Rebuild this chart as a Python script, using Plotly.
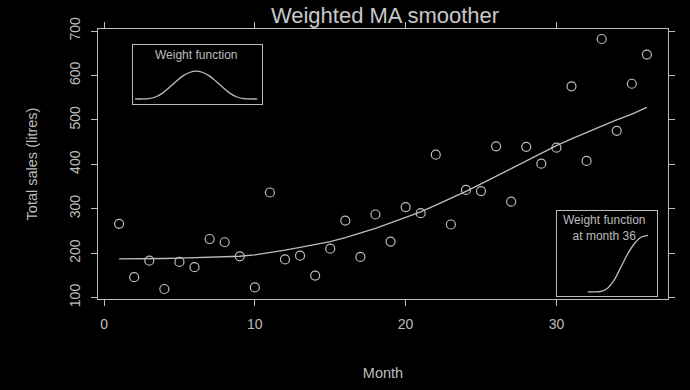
import plotly.graph_objects as go

# Data
months = list(range(1, 37))
sales = [266.0, 145.9, 183.1, 119.3, 180.3, 168.5, 231.8, 224.5, 192.8, 122.9,
         336.5, 185.9, 194.3, 149.5, 210.1, 273.3, 191.4, 287.0, 226.0, 303.6,
         289.9, 421.6, 264.5, 342.3, 339.7, 440.4, 315.9, 439.3, 401.3, 437.4,
         575.5, 407.6, 682.0, 475.3, 581.3, 646.9]
smooth = [187, 187, 187, 188, 189, 190, 190, 191, 193, 196,
          201, 207, 213, 219, 226, 235, 245, 256, 268, 280,
          293, 308, 323, 339, 356, 373, 390, 408, 425, 442,
          457, 472, 486, 500, 513, 528]
x_ticks = [0, 10, 20, 30]
y_ticks = [100, 200, 300, 400, 500, 600, 700]

# inset weight functions
w1_lag = [-9, -8, -7, -6, -5, -4, -3, -2, -1, 0, 1, 2, 3, 4, 5, 6, 7, 8, 9]
w1_val = [0, 0, 0.01, 0.07, 0.2, 0.4, 0.62, 0.82, 0.95, 1.0, 0.95, 0.82, 0.62, 0.4, 0.2, 0.07, 0.01, 0, 0]
w2_lag = [-9, -8, -7, -6, -5, -4, -3, -2, -1, 0]
w2_val = [0, 0, 0.01, 0.07, 0.22, 0.45, 0.68, 0.86, 0.97, 1.0]

FG = "#bdbdbd"
FONT = "Liberation Sans, Arial, sans-serif"

fig = go.Figure()
fig.add_trace(go.Scatter(x=months, y=sales, mode="markers",
                         marker=dict(symbol="circle-open", size=9, color=FG, line=dict(width=1.2, color=FG)),
                         showlegend=False, hoverinfo="skip"))
fig.add_trace(go.Scatter(x=months, y=smooth, mode="lines", line=dict(color=FG, width=1.3),
                         showlegend=False, hoverinfo="skip"))
fig.add_trace(go.Scatter(x=w1_lag, y=w1_val, mode="lines", line=dict(color=FG, width=1.3, shape="spline"),
                         xaxis="x2", yaxis="y2", showlegend=False, hoverinfo="skip"))
fig.add_trace(go.Scatter(x=w2_lag, y=w2_val, mode="lines", line=dict(color=FG, width=1.3, shape="spline"),
                         xaxis="x3", yaxis="y3", showlegend=False, hoverinfo="skip"))

inset_axis = dict(showgrid=False, zeroline=False, showticklabels=False, ticks="",
                  showline=True, mirror=True, linecolor=FG, linewidth=1.2)

fig.update_layout(
    width=690, height=390,
    margin=dict(l=98, r=22, t=29, b=85),
    paper_bgcolor="black", plot_bgcolor="black",
    font=dict(family=FONT, color=FG, size=14),
    title=dict(text="Weighted MA smoother", x=0.558, xanchor="center", y=0.962, yanchor="middle",
               font=dict(size=22, color="#c8c8c8")),
    xaxis=dict(range=[-0.4, 37.4], tickvals=x_ticks, showgrid=False, zeroline=False,
               showline=True, mirror="allticks", linecolor=FG, linewidth=1.2,
               ticks="outside", ticklen=6, tickcolor=FG, tickfont=dict(size=14),
               ticklabelstandoff=6,
               title=dict(text="Month", font=dict(size=14.5), standoff=36)),
    yaxis=dict(range=[96.8, 704.5], tickvals=y_ticks, showgrid=False, zeroline=False,
               showline=True, mirror="allticks", linecolor=FG, linewidth=1.2,
               ticks="outside", ticklen=6, tickcolor=FG, tickangle=-90, tickfont=dict(size=14),
               ticklabelstandoff=5,
               title=dict(text="Total sales (litres)", font=dict(size=14.5), standoff=26)),
    xaxis2=dict(domain=[0.0614, 0.2877], range=[-9.3, 9.7], anchor="y2", **inset_axis),
    yaxis2=dict(domain=[0.721, 0.942], range=[-0.193, 1.95], anchor="x2", **inset_axis),
    xaxis3=dict(domain=[0.805, 0.981], range=[-13.6, 1.35], anchor="y3", **inset_axis),
    yaxis3=dict(domain=[0.011, 0.326], range=[-0.074, 1.43], anchor="x3", **inset_axis),
    annotations=[
        dict(text="Weight function", xref="paper", yref="paper", x=(196 - 98) / 570, y=(305 - 56) / 276,
             showarrow=False, font=dict(size=12, color=FG), xanchor="center", yanchor="middle"),
        dict(text="Weight function<br>at month 36", xref="paper", yref="paper",
             x=(604 - 98) / 570, y=(305 - 232) / 276, showarrow=False,
             font=dict(size=12, color=FG), xanchor="center", yanchor="middle"),
    ],
)

fig.write_html("out.html")
